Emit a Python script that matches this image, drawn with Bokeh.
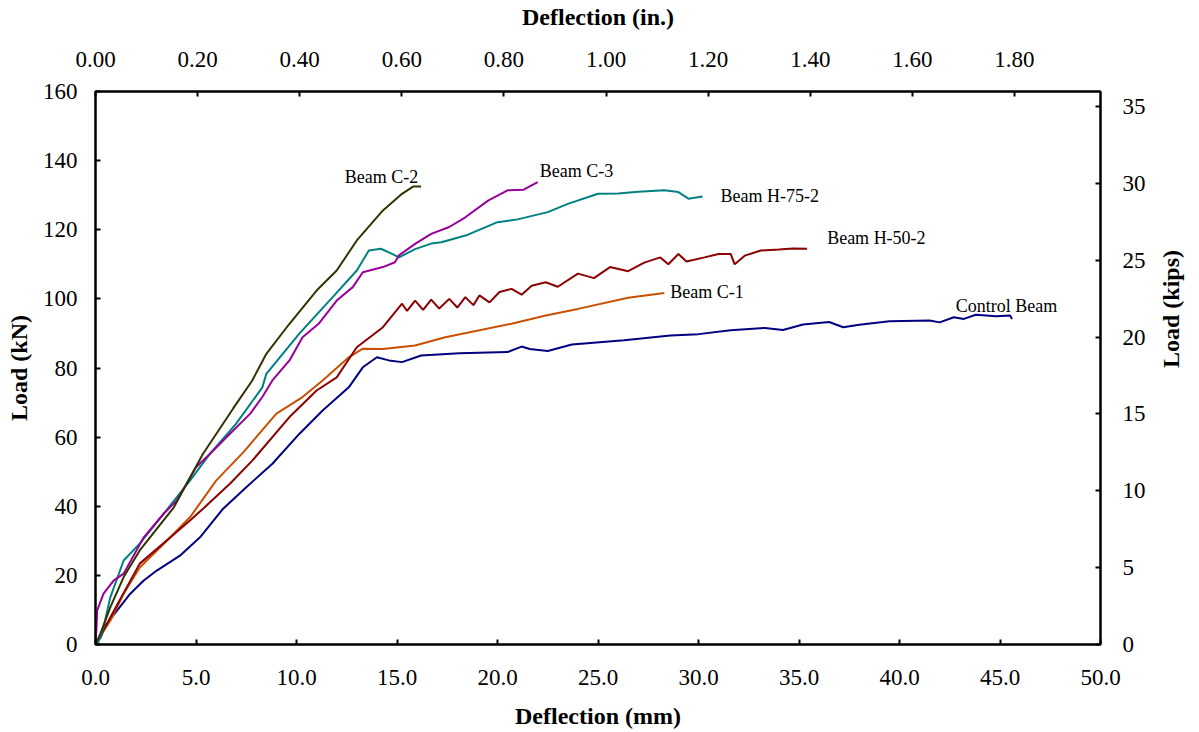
import math
from bokeh.plotting import figure
from bokeh.models import Range1d, LinearAxis, FixedTicker, PrintfTickFormatter
from bokeh.core.properties import value
from bokeh.embed import file_html
from bokeh.resources import INLINE

# ---- data (deflection in mm, load in kN) ----
control_x = [0, 0.25, 0.5, 1.07, 1.73, 2.4, 3.05, 4.2, 5.2, 6.35, 7.5, 8.8, 10.15, 11.3, 12.6, 13.3,
             14.0, 14.6, 15.25, 16.2, 18.1, 20.5, 21.2, 21.6, 22.5, 23.7, 26.3, 28.6, 30.0, 31.6, 33.3,
             34.2, 35.2, 36.5, 37.2, 38.0, 39.5, 41.5, 42.0, 42.7, 43.2, 43.8, 44.8, 45.5, 45.6]
control_y = [0, 2, 5.5, 9.8, 14.7, 18.5, 21.4, 25.7, 31, 39.3, 45.5, 52.3, 61, 67.7, 74.4, 80.2,
             83.1, 82.2, 81.7, 83.6, 84.3, 84.6, 86.2, 85.5, 84.9, 86.8, 88, 89.4, 89.8, 90.9, 91.6,
             91, 92.6, 93.3, 91.8, 92.5, 93.5, 93.75, 93.2, 94.7, 94.2, 95.4, 95, 95.2, 94.2]

c1_x = [0, 0.3, 0.75, 1.4, 2.2, 3.55, 4.7, 6.0, 7.35, 9.0, 10.3, 11.3, 12.6, 13.3, 14.3, 15.9,
        17.4, 20.7, 22.4, 24.0, 26.5, 28.3]
c1_y = [0, 3, 7, 14.7, 22.3, 30, 36.8, 47.4, 55.6, 66.8, 71.6, 76.4, 83.1, 85.6, 85.5, 86.5,
        88.9, 92.8, 95.2, 97.1, 100.3, 101.7]

h50_x = [0, 0.3, 0.74, 2.2, 4.7, 5.35, 6.7, 7.8, 9.65, 11.0, 12.0, 13.0, 14.3, 15.25, 15.5, 15.9,
         16.3, 16.7, 17.1, 17.6, 18.0, 18.4, 18.8, 19.1, 19.6, 20.1, 20.7, 21.2, 21.7, 22.4, 23.0,
         24.0, 24.8, 25.6, 26.5, 27.3, 28.1, 28.5, 29.0, 29.4, 30.3, 31.0, 31.6, 31.8, 32.3, 33.1,
         34.0, 34.7, 35.4]
h50_y = [0, 3, 7.9, 23.4, 35.9, 39.3, 46.6, 53.2, 65.8, 73.5, 77.3, 86, 91.8, 98.6, 96.5, 99.5,
         96.8, 99.8, 97.2, 100, 97.5, 100.5, 98.2, 101, 99, 102, 102.9, 101.2, 103.8, 104.8, 103.5,
         107.3, 106, 109.2, 108, 110.5, 112, 110, 113, 110.8, 112, 113, 113, 110, 112.5, 114,
         114.3, 114.6, 114.5]

h75_x = [0, 0.1, 0.4, 0.74, 1.4, 2.2, 3.4, 4.7, 5.7, 7.0, 8.3, 8.5, 10.15, 11.8, 13.0, 13.6, 14.2,
         14.75, 15.1, 15.9, 16.7, 17.2, 18.5, 20.0, 21.0, 22.5, 23.5, 25.0, 26.0, 27.0, 28.3, 29.0,
         29.5, 30.2]
h75_y = [0, 0, 5, 13.7, 24.3, 29.2, 37.9, 47.4, 55.2, 63.9, 74.4, 78.3, 90, 100.5, 108.2, 114, 114.5,
         113, 112, 114.4, 116, 116.4, 118.5, 122.2, 123, 125.1, 127.5, 130.4, 130.5, 131, 131.4, 130.9,
         129, 129.6]

c3_x = [0, 0.05, 0.08, 0.4, 0.9, 1.4, 2.4, 3.4, 4.05, 5.0, 5.7, 6.85, 7.7, 8.3, 8.8, 9.65, 10.3,
        11.1, 12.0, 12.8, 13.3, 14.3, 14.9, 15.1, 15.9, 16.7, 17.6, 18.4, 19.55, 20.5, 21.3, 22.0]
c3_y = [0, 5, 9.8, 14.7, 18.5, 20.5, 31, 37.9, 41.7, 51.3, 55.2, 61.9, 66.8, 71.6, 76.4, 82.2, 88.9,
        92.8, 99.5, 103.4, 107.7, 109.2, 110.6, 112.6, 115.9, 118.8, 120.8, 123.6, 128.5, 131.4, 131.6, 133.8]

c2_x = [0, 0.25, 0.74, 1.4, 2.2, 3.9, 5.35, 6.85, 7.8, 8.5, 9.65, 11.0, 12.0, 13.0, 14.3, 15.25, 15.8, 16.2]
c2_y = [0, 3.2, 10.8, 19.5, 27.2, 39.7, 55.2, 68.3, 76.4, 84.1, 92.8, 102.4, 108.2, 116.9, 125.6, 130.4,
        132.5, 132.5]

series_names = ["Control Beam", "Beam C-1", "Beam H-50-2", "Beam H-75-2", "Beam C-3", "Beam C-2"]
series_x = [control_x, c1_x, h50_x, h75_x, c3_x, c2_x]
series_y = [control_y, c1_y, h50_y, h75_y, c3_y, c2_y]
series_colors = ["#000080", "#C85000", "#8B0000", "#008080", "#990099", "#333300"]

# label anchor positions (mm, kN)
label_x = [42.8, 28.6, 36.4, 31.1, 22.1, 12.4]
label_y = [97.8, 101.9, 117.5, 129.9, 136.9, 135.4]

x_ticks_mm = [0, 5, 10, 15, 20, 25, 30, 35, 40, 45, 50]
x_ticks_in = [0.0, 0.2, 0.4, 0.6, 0.8, 1.0, 1.2, 1.4, 1.6, 1.8]
y_ticks_kn = [0, 20, 40, 60, 80, 100, 120, 140, 160]
y_ticks_kips = [0, 5, 10, 15, 20, 25, 30, 35]

FONT = "Liberation Serif"

p = figure(width=1199, height=731, x_range=Range1d(0, 50), y_range=Range1d(0, 160),
           output_backend="svg", toolbar_location=None,
           min_border_left=95, min_border_right=94, min_border_top=91, min_border_bottom=87)
p.extra_x_ranges = {"inch": Range1d(0, 50 / 25.4)}
p.extra_y_ranges = {"kips": Range1d(0, 160 / 4.448222)}
p.grid.visible = False
p.outline_line_color = "black"
p.outline_line_width = 2
p.background_fill_color = "white"
p.border_fill_color = "white"

bottom_axis = p.below[0]
left_axis = p.left[0]
top_axis = LinearAxis(x_range_name="inch")
right_axis = LinearAxis(y_range_name="kips")
p.add_layout(top_axis, "above")
p.add_layout(right_axis, "right")

def style_axis(ax, ticks, fmt, title, standoff, title_standoff):
    ax.ticker = FixedTicker(ticks=ticks)
    ax.formatter = PrintfTickFormatter(format=fmt)
    ax.axis_label = title
    ax.axis_label_text_font = FONT
    ax.axis_label_text_font_style = "bold"
    ax.axis_label_text_font_size = "24px"
    ax.axis_label_text_color = "black"
    ax.axis_label_standoff = title_standoff
    ax.major_label_text_font = FONT
    ax.major_label_text_font_size = "23px"
    ax.major_label_text_color = "black"
    ax.major_label_standoff = standoff
    ax.major_tick_in = 5
    ax.major_tick_out = 0
    ax.minor_tick_in = 0
    ax.minor_tick_out = 0
    ax.axis_line_width = 2
    ax.axis_line_color = "black"
    ax.major_tick_line_width = 2
    ax.major_tick_line_color = "black"

style_axis(bottom_axis, x_ticks_mm, "%.1f", "Deflection (mm)", 25, 15)
style_axis(left_axis, y_ticks_kn, "%d", "Load (kN)", 18, 8)
style_axis(top_axis, x_ticks_in, "%.2f", "Deflection (in.)", 25, 19)
style_axis(right_axis, y_ticks_kips, "%d", "Load (kips)", 22, 22)
right_axis.axis_label_orientation = math.pi / 2

for xs, ys, col in zip(series_x, series_y, series_colors):
    p.line(xs, ys, line_color=col, line_width=2)

p.text(x=label_x, y=label_y, text=series_names, text_font=value(FONT), text_font_size="18px",
       text_align="left", text_baseline="middle", text_color="black")

open("out.html", "w").write(file_html(p, INLINE))
